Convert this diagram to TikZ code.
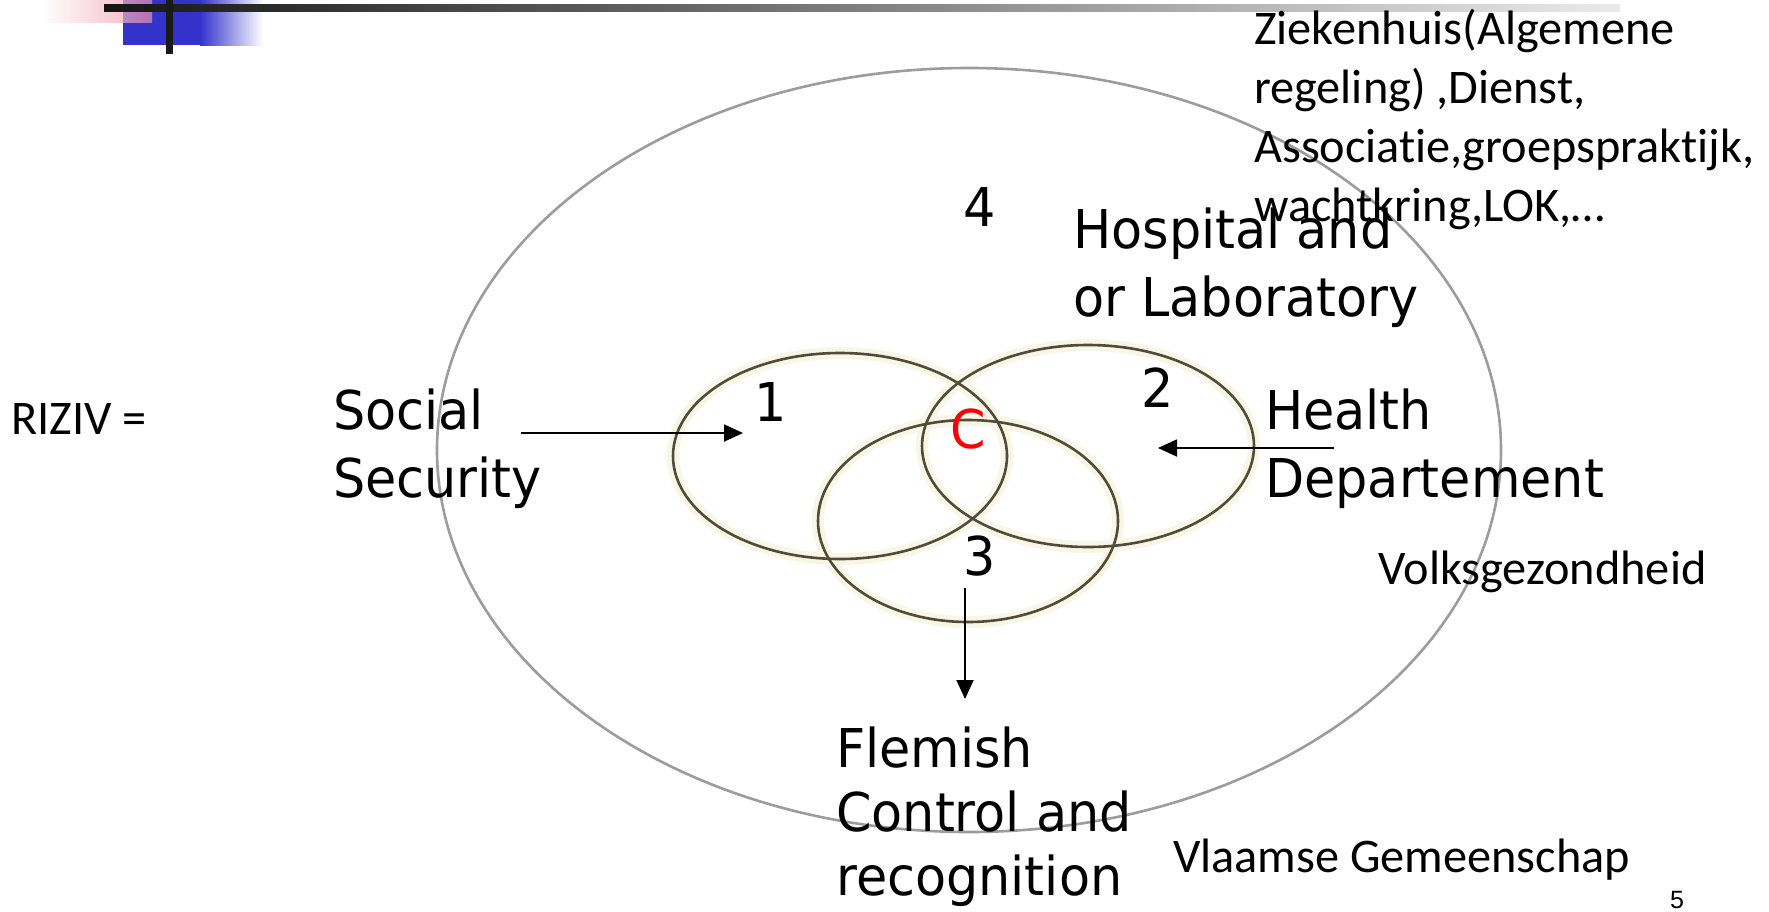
\documentclass[tikz,border=0pt]{standalone}
\usepackage{fontspec}
\usetikzlibrary{arrows.meta, positioning}
\setmainfont[Ligatures=NoCommon]{Carlito}
\newfontfamily\bigfont[FakeStretch=0.95]{DejaVu Sans}
\newfontfamily\pagefont{Liberation Sans}
\definecolor{RingLine}{HTML}{4F4C3E}
\definecolor{RingGlow}{HTML}{F8F6E4}
\definecolor{OuterLine}{HTML}{9C9C9C}
\definecolor{BarBlue}{HTML}{3333CC}
\definecolor{BarPink}{HTML}{EE8FA8}
\tikzset{
    % text styles
    bigtext/.style={
        font=\bigfont\fontsize{53.5}{68}\selectfont,
        inner sep=0pt,
        align=left
    },
    smalltext/.style={
        font=\fontsize{48.3}{58.7}\selectfont,
        inner sep=0pt,
        align=left
    },
    % ring styles
    ring/.style={
        draw=RingLine,
        line width=2.6pt
    },
    ringglow/.style={
        draw=RingGlow,
        line width=12pt
    },
    outerring/.style={
        draw=OuterLine,
        line width=2.6pt
    },
    % arrow style
    arrow/.style={
        -{Triangle[length=19pt,width=17pt]},
        line width=1.8pt,
        draw=black
    }
}
\begin{document}
\begin{tikzpicture}[x=1pt, y=-1pt]
    \useasboundingbox (0,0) rectangle (1769,911);
    \fill[white] (0,0) rectangle (1769,911);

    % Header decoration
    \fill[BarBlue] (123,0) rectangle (200,45);
    \shade[left color=BarBlue, right color=white] (200,0) rectangle (263,45);
    \shade[left color=white, right color=BarPink, opacity=0.7] (42,0) rectangle (152,22);
    \shade[left color=black!92, right color=black!8] (104,4) rectangle (1620,11);
    \fill[black!90] (166,0) rectangle (173,54);

    % Rings
    \draw[outerring] (969,450) ellipse [x radius=532, y radius=382];
    \foreach \cx/\cy/\rx/\ry in {840/456/167/103, 1088/446/166/101, 968/521/150/101}
        \draw[ringglow] (\cx,\cy) ellipse [x radius=\rx, y radius=\ry];
    \foreach \cx/\cy/\rx/\ry in {840/456/167/103, 1088/446/166/101, 968/521/150/101}
        \draw[ring] (\cx,\cy) ellipse [x radius=\rx, y radius=\ry];

    % Region numbers
    \node[bigtext, anchor=base] (n1) at (771,421) {1};
    \node[bigtext, anchor=base] (n2) at (1158,407) {2};
    \node[bigtext, anchor=base] (n3) at (980,575) {3};
    \node[bigtext, anchor=base] (n4) at (980,226) {4};
    \node[bigtext, anchor=base, text=red] (core) at (968,448) {C};

    % Labels (base = last line)
    \node[smalltext, anchor=base west] (riziv) at (11,434) {RIZIV =};
    \node[bigtext, anchor=base west] (social) at (333,497) {Social\\Security};
    \node[bigtext, anchor=base west] (health) at (1265,497) {Health\\Departement};
    \node[bigtext, anchor=base west] (hospital) at (1073,316) {Hospital and\\or Laboratory};
    \node[bigtext, anchor=base west, font=\bigfont\fontsize{53.5}{64}\selectfont] (flemish) at (836,895) {Flemish\\Control and\\recognition};
    \node[smalltext, anchor=base west] (zieken) at (1254,221) {Ziekenhuis(Algemene\\regeling) ,Dienst,\\Associatie,groepspraktijk,\\wachtkring,LOK,\dots};
    \node[smalltext, anchor=base west] (volks) at (1378,584) {Volksgezondheid};
    \node[smalltext, anchor=base west] (vlaamse) at (1173,872) {Vlaamse Gemeenschap};
    \node[font=\pagefont\fontsize{25}{30}\selectfont, inner sep=0pt, anchor=base] (page) at (1677,908) {5};

    % Arrows
    \coordinate (socialtail) at (521,433);
    \coordinate (socialhead) at (743,433);
    \coordinate (healthtail) at (1334,448);
    \coordinate (healthhead) at (1158,448);
    \coordinate (flemishtail) at (965,588);
    \coordinate (flemishhead) at (965,699);
    \draw[arrow] (socialtail) -- (socialhead);
    \draw[arrow] (healthtail) -- (healthhead);
    \draw[arrow] (flemishtail) -- (flemishhead);
\end{tikzpicture}
\end{document}
